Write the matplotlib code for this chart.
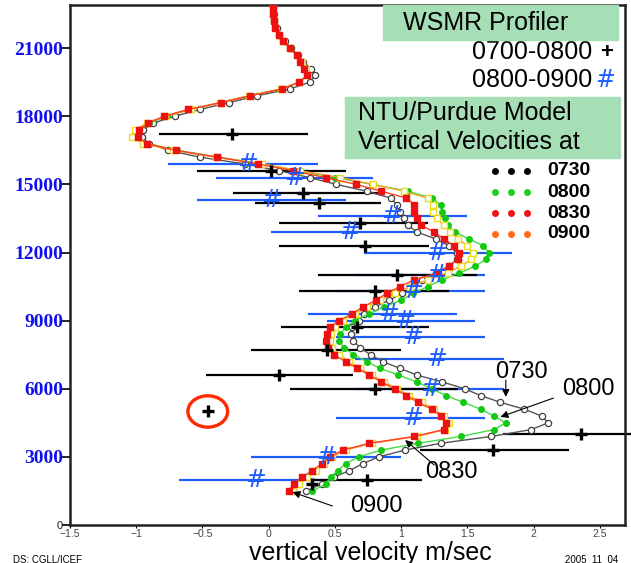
import matplotlib
matplotlib.use('Agg')
import matplotlib.pyplot as plt
from matplotlib.patches import Ellipse, Rectangle
from matplotlib.lines import Line2D

# model levels (m)
heights = [1500, 1800, 2100, 2400, 2700, 3000, 3300, 3600, 3900, 4200, 4500, 4800,
           5100, 5400, 5700, 6000, 6300, 6600, 6900, 7200, 7500, 7800, 8100, 8400,
           8700, 9000, 9300, 9600, 9900, 10200, 10500, 10800, 11100, 11400, 11700, 12000,
           12300, 12600, 12900, 13200, 13500, 13800, 14100, 14400, 14700, 15000, 15300, 15600,
           15900, 16200, 16500, 16800, 17100, 17400, 17700, 18000, 18300, 18600, 18900, 19200,
           19500, 19800, 20100, 20400, 20700, 21000, 21300, 21600, 21900, 22200, 22500, 22800]

# NTU/Purdue model vertical velocity (m/s)
vv_0730 = [0.28, 0.40, 0.49, 0.61, 0.71, 0.83, 1.03, 1.30, 1.68, 1.98, 2.11, 2.06,
           1.93, 1.75, 1.60, 1.48, 1.31, 1.12, 0.99, 0.86, 0.77, 0.69, 0.64, 0.62,
           0.63, 0.68, 0.72, 0.80, 0.91, 1.01, 1.09, 1.16, 1.26, 1.36, 1.42, 1.42,
           1.36, 1.26, 1.12, 1.05, 1.02, 0.99, 0.97, 0.92, 0.74, 0.51, 0.31, 0.08,
           -0.18, -0.52, -0.76, -0.90, -0.96, -0.95, -0.87, -0.71, -0.52, -0.30, -0.09, 0.16,
           0.31, 0.35, 0.32, 0.26, 0.22, 0.17, 0.12, 0.08, 0.06, 0.04, 0.04, 0.03]
vv_0800 = [0.33, 0.43, 0.47, 0.52, 0.58, 0.68, 0.85, 1.13, 1.45, 1.70, 1.79, 1.70,
           1.60, 1.47, 1.34, 1.23, 1.12, 0.98, 0.84, 0.74, 0.64, 0.57, 0.53, 0.54,
           0.58, 0.65, 0.76, 0.87, 1.00, 1.09, 1.20, 1.31, 1.44, 1.56, 1.64, 1.66,
           1.62, 1.51, 1.41, 1.35, 1.33, 1.31, 1.30, 1.23, 1.05, 0.78, 0.50, 0.22,
           -0.05, -0.38, -0.69, -0.92, -1.00, -0.98, -0.90, -0.77, -0.59, -0.37, -0.15, 0.09,
           0.23, 0.29, 0.27, 0.24, 0.21, 0.16, 0.11, 0.08, 0.05, 0.04, 0.03, 0.03]
vv_0830 = [0.15, 0.19, 0.25, 0.33, 0.40, 0.46, 0.56, 0.76, 1.10, 1.32, 1.34, 1.30,
           1.23, 1.13, 1.04, 0.95, 0.85, 0.76, 0.67, 0.58, 0.49, 0.45, 0.43, 0.44,
           0.46, 0.53, 0.63, 0.71, 0.81, 0.89, 0.99, 1.10, 1.28, 1.36, 1.43, 1.44,
           1.40, 1.32, 1.25, 1.15, 1.12, 1.10, 1.10, 1.04, 0.85, 0.66, 0.43, 0.18,
           -0.08, -0.39, -0.70, -0.92, -0.99, -0.98, -0.91, -0.79, -0.61, -0.36, -0.14, 0.10,
           0.23, 0.29, 0.27, 0.24, 0.21, 0.16, 0.11, 0.08, 0.05, 0.04, 0.03, 0.03]
vv_0900 = [0.18, 0.23, 0.29, 0.36, 0.42, 0.48, 0.58, 0.78, 1.12, 1.33, 1.36, 1.32,
           1.25, 1.16, 1.06, 0.97, 0.87, 0.78, 0.69, 0.61, 0.53, 0.48, 0.46, 0.47,
           0.50, 0.56, 0.65, 0.74, 0.84, 0.95, 1.07, 1.20, 1.35, 1.45, 1.53, 1.54,
           1.50, 1.43, 1.37, 1.32, 1.27, 1.24, 1.24, 1.20, 1.02, 0.79, 0.54, 0.24,
           -0.05, -0.40, -0.72, -0.95, -1.03, -1.01, -0.92, -0.78, -0.59, -0.37, -0.15, 0.09,
           0.23, 0.29, 0.28, 0.25, 0.21, 0.16, 0.11, 0.08, 0.05, 0.04, 0.03, 0.03]

# WSMR profiler 0700-0800 (+): height, mean w, range
prof1_z = [17200, 15600, 14600, 14200, 13300, 12300, 11000, 10300, 8700, 7700, 6600, 6000,
           5000, 4000, 3300, 2000, 1800]
prof1_w = [-0.28, 0.02, 0.26, 0.38, 0.69, 0.73, 0.97, 0.80, 0.67, 0.44, 0.08, 0.80,
           -0.46, 2.36, 1.69, 0.74, 0.33]
prof1_lo = [-0.83, -0.54, -0.27, -0.10, 0.08, 0.08, 0.37, 0.23, 0.09, -0.13, -0.47, 0.16,
            -0.46, 1.77, 1.14, 0.30, 0.33]
prof1_hi = [0.30, 0.58, 0.85, 0.85, 1.20, 1.21, 1.57, 1.36, 1.21, 1.00, 0.64, 1.43,
            -0.46, 2.95, 2.27, 1.16, 0.33]

# WSMR profiler 0800-0900 (#)
prof2_z = [15900, 15300, 14300, 13600, 12900, 12000, 11000, 10300, 9300, 9000, 8300, 7300,
           6000, 4700, 3000, 2000]
prof2_w = [-0.16, 0.20, 0.02, 0.93, 0.61, 1.27, 1.27, 1.09, 0.91, 1.03, 1.09, 1.27,
           1.22, 1.09, 0.44, -0.10]
prof2_lo = [-0.76, -0.40, -0.54, 0.37, 0.02, 0.72, 0.65, 0.51, 0.30, 0.44, 0.51, 0.65,
            0.65, 0.51, -0.13, -0.68]
prof2_hi = [0.37, 0.79, 0.58, 1.50, 1.14, 1.84, 1.63, 1.63, 1.42, 1.56, 1.63, 1.78,
            1.78, 1.63, 1.00, 0.48]

yticks = [0, 3000, 6000, 9000, 12000, 15000, 18000, 21000]
xticks = [-1.5, -1, -0.5, 0, 0.5, 1, 1.5, 2, 2.5]
xtick_labels = ['\u22121.5', '\u22121', '\u22120.5', '0', '0.5', '1', '1.5', '2', '2.5']

# label name, text position, arrow tail, arrow tip (data coords)
notes = [('0730', (1.91, 6740), (1.79, 6380), (1.79, 5640)),
         ('0800', (2.41, 5990), (2.15, 5590), (1.75, 4760)),
         ('0830', (1.38, 2330), (1.25, 2640), (1.03, 3740)),
         ('0900', (0.81, 840), (0.48, 840), (0.18, 1450))]

W, H = 631, 563
def fx(px):
    return px / W
def fy(py):
    return 1 - py / H

plt.rcParams['font.family'] = ['Liberation Sans', 'DejaVu Sans']
fig = plt.figure(figsize=(W / 100, H / 100), dpi=100)
ax = fig.add_axes([fx(70), fy(525), 555 / W, 520 / H])
ax.set_xlim(-1.5, 2.69)
ax.set_ylim(0, 22900)

# observations
ax.hlines(prof2_z, prof2_lo, prof2_hi, colors='#1f5cff', lw=1.6, zorder=2)
ax.hlines(prof1_z, prof1_lo, prof1_hi, colors='black', lw=1.6, zorder=2, clip_on=False)

# model profiles
ax.plot(vv_0730, heights, '-o', color='#555555', lw=1, ms=4.5, mfc='white',
        mec='#404040', mew=0.9, zorder=3)
ax.plot(vv_0800, heights, '-o', color='#44dd44', lw=1, ms=4, mfc='#14c814',
        mec='#14c814', zorder=4)
ax.plot(vv_0900, heights, '-s', color='#ffa020', lw=1, ms=5, mfc='white',
        mec='#e8dc20', mew=1, zorder=5)
ax.plot(vv_0830, heights, '-s', color='#ff4020', lw=1, ms=4.8, mfc='#ee1111',
        mec='#ee1111', zorder=6)

ax.plot(prof1_w, prof1_z, '+', color='black', ms=9, mew=2.4, ls='none', zorder=8)
for w, z in zip(prof2_w, prof2_z):
    ax.text(w, z, '#', color='#1f5cff', fontsize=18, style='italic', family='DejaVu Sans',
            ha='center', va='center', zorder=8)

# circled outlier
ax.add_patch(Ellipse((prof1_w[12], prof1_z[12]), 0.30, 1380, fill=False,
                     ec='#ff2a00', lw=2.4, zorder=9))

for name, txt, tail, tip in notes:
    ax.annotate('', xy=tip, xytext=tail,
                arrowprops=dict(arrowstyle='-|>', color='black', lw=0.8,
                                mutation_scale=11, shrinkA=0, shrinkB=0), zorder=9)
    ax.text(txt[0], txt[1], name, fontsize=17, ha='center', va='center', zorder=9)

# axes styling
for s in ax.spines.values():
    s.set_linewidth(1.8)
    s.set_color('#222222')
ax.set_xticks(xticks)
ax.set_xticklabels(xtick_labels, fontsize=7.5, color='#444444')
ax.set_yticks(yticks)
ax.set_yticklabels([str(v) for v in yticks], fontsize=14, fontweight='bold',
                   color='#1010ee', family='Liberation Serif')
ax.tick_params(axis='y', direction='out', length=6, width=1.2, pad=-1)
ax.tick_params(axis='x', direction='out', length=2, width=0.8, pad=1)
lab0 = ax.get_yticklabels()[0]
lab0.set_fontsize(8)
lab0.set_fontweight('normal')
lab0.set_color('#222222')
lab0.set_family('Liberation Sans')
ax.set_xlabel('vertical velocity m/sec', fontsize=18)
ax.xaxis.set_label_coords(0.542, -0.031)

# legend boxes
box_c = '#a6dfb6'
fig.patches.append(Rectangle((fx(383), fy(40)), (618 - 383) / W, 35 / H,
                             transform=fig.transFigure, color=box_c, zorder=10))
fig.text(fx(486), fy(23), 'WSMR Profiler', fontsize=18, ha='center', va='center', zorder=11)
fig.text(fx(592), fy(52), '0700-0800', fontsize=18, ha='right', va='center')
fig.text(fx(607), fy(52), '+', fontsize=16, fontweight='bold', ha='center', va='center')
fig.text(fx(592), fy(80), '0800-0900', fontsize=18, ha='right', va='center')
fig.text(fx(605), fy(80), '#', fontsize=17, style='italic', family='DejaVu Sans',
         color='#1f5cff', ha='center', va='center')

fig.patches.append(Rectangle((fx(345), fy(158)), (620 - 345) / W, 61 / H,
                             transform=fig.transFigure, color=box_c, zorder=10))
fig.text(fx(358), fy(113), 'NTU/Purdue Model', fontsize=18, ha='left', va='center', zorder=11)
fig.text(fx(358), fy(142), 'Vertical Velocities at', fontsize=18, ha='left', va='center',
         zorder=11)

leg_cols = ['black', '#22cc22', '#ee1111', '#ff6a1a']
leg_names = ['0730', '0800', '0830', '0900']
leg_py = [171, 192, 213, 234]
for c, n, py in zip(leg_cols, leg_names, leg_py):
    fig.add_artist(Line2D([fx(495), fx(511), fx(527)], [fy(py)] * 3, ls='none', marker='o',
                          ms=4, color=c, transform=fig.transFigure))
    fig.text(fx(547), fy(py), n, fontsize=14, fontweight='bold', ha='left', va='center')

fig.text(fx(13), fy(565), 'DS: CGLL/ICEF', fontsize=7, ha='left', va='bottom')
fig.text(fx(565), fy(565), '2005  11  04', fontsize=7, ha='left', va='bottom')

fig.savefig('out.png', dpi=100)
